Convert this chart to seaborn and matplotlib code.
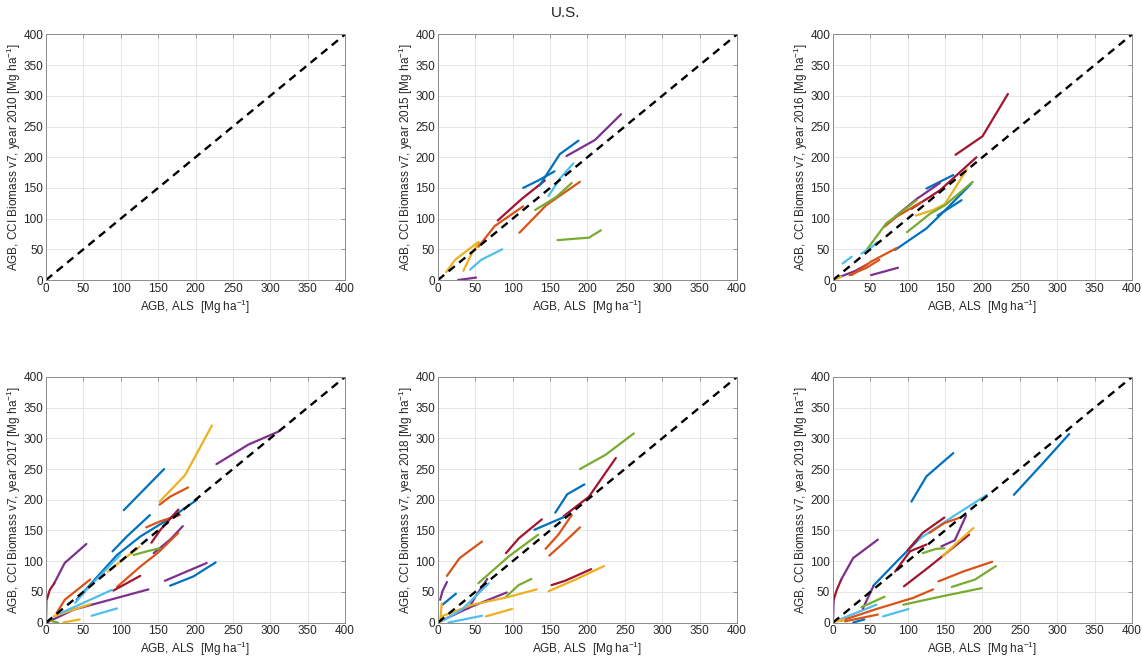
import matplotlib
matplotlib.use("Agg")
import matplotlib.pyplot as plt
import seaborn as sns
import pandas as pd

# MATLAB default line colours
PALETTE = {
    "blue": "#0072BD", "orange": "#D95319", "yellow": "#EDB120",
    "purple": "#7E2F8E", "green": "#77AC30", "lblue": "#4DBEEE",
    "dred": "#A2142F",
}

years = [2010, 2015, 2016, 2017, 2018, 2019]
ticks = [0, 50, 100, 150, 200, 250, 300, 350, 400]

# each segment: (colour, AGB ALS values, AGB CCI values)
seg_2010 = []

seg_2015 = [
    ("purple", [27, 51], [0, 4]),
    ("yellow", [11, 23, 54], [13, 33, 62]),
    ("yellow", [34, 45, 55], [15, 43, 61]),
    ("lblue", [43, 58, 86], [17, 33, 50]),
    ("orange", [54, 76, 114], [54, 88, 120]),
    ("dred", [80, 112, 143], [97, 132, 162]),
    ("blue", [114, 134, 156], [150, 162, 177]),
    ("blue", [136, 163, 188], [154, 205, 227]),
    ("purple", [172, 210, 245], [202, 228, 270]),
    ("lblue", [148, 163, 181], [137, 165, 190]),
    ("green", [130, 158, 179], [114, 135, 158]),
    ("orange", [109, 145, 190], [77, 122, 160]),
    ("green", [160, 202, 218], [65, 69, 81]),
]

seg_2016 = [
    ("dred", [164, 200, 234], [204, 234, 303]),
    ("dred", [105, 143, 192], [116, 146, 200]),
    ("blue", [125, 161], [149, 171]),
    ("purple", [83, 112, 143], [103, 132, 158]),
    ("orange", [69, 85, 118], [87, 103, 127]),
    ("yellow", [111, 134, 150, 179], [105, 114, 124, 180]),
    ("green", [45, 71, 112], [49, 92, 130]),
    ("green", [99, 130, 150, 187], [78, 108, 122, 160]),
    ("blue", [83, 125, 152, 185], [49, 84, 116, 157]),
    ("blue", [140, 172], [105, 130]),
    ("lblue", [38, 52, 60], [43, 54, 62]),
    ("lblue", [13, 25], [27, 38]),
    ("orange", [25, 51, 85], [8, 30, 52]),
    ("orange", [22, 45, 62], [8, 20, 33]),
    ("purple", [9, 30, 45], [5, 15, 25]),
    ("purple", [51, 87], [8, 20]),
    ("yellow", [0, 11], [0, 5]),
]

seg_2017 = [
    ("purple", [228, 271, 311], [258, 290, 311]),
    ("yellow", [152, 186, 222], [197, 240, 321]),
    ("blue", [104, 158], [183, 250]),
    ("orange", [152, 166, 190], [192, 205, 220]),
    ("blue", [41, 63, 95, 126, 170, 202], [37, 67, 110, 140, 173, 200]),
    ("blue", [89, 108, 139], [116, 140, 175]),
    ("orange", [134, 153, 179], [155, 165, 175]),
    ("dred", [141, 153, 177], [130, 151, 184]),
    ("purple", [144, 166, 183], [113, 135, 157]),
    ("orange", [95, 126, 150, 177], [58, 91, 114, 146]),
    ("green", [117, 135, 152], [110, 116, 121]),
    ("yellow", [83, 99, 125], [83, 99, 123]),
    ("lblue", [39, 54, 99], [32, 53, 110]),
    ("lblue", [19, 88], [15, 53]),
    ("lblue", [61, 95], [11, 23]),
    ("dred", [90, 126], [52, 76]),
    ("purple", [1, 37, 137], [0, 21, 54]),
    ("purple", [159, 215], [68, 97]),
    ("blue", [166, 197, 227], [60, 75, 98]),
    ("dred", [1, 5, 11], [37, 53, 64]),
    ("purple", [11, 25, 54], [64, 97, 128]),
    ("green", [0, 1], [0, 34]),
    ("green", [5, 16], [3, 0]),
    ("orange", [14, 25, 59], [15, 37, 70]),
    ("yellow", [23, 45], [0, 5]),
    ("yellow", [10, 59], [10, 30]),
]

seg_2018 = [
    ("green", [190, 224, 262], [250, 273, 308]),
    ("dred", [168, 202, 238], [173, 205, 268]),
    ("blue", [157, 173, 196], [179, 209, 225]),
    ("blue", [129, 148, 171], [151, 161, 173]),
    ("orange", [144, 161, 179], [120, 143, 175]),
    ("orange", [149, 170, 190], [109, 132, 155]),
    ("dred", [91, 108, 139], [113, 137, 168]),
    ("green", [54, 95, 134], [64, 108, 143]),
    ("orange", [12, 29, 59], [76, 105, 132]),
    ("purple", [3, 6, 12], [37, 51, 66]),
    ("blue", [6, 24], [29, 47]),
    ("purple", [41, 50, 66], [23, 42, 71]),
    ("purple", [3, 43, 92], [2, 25, 49]),
    ("green", [91, 108, 125], [42, 61, 71]),
    ("yellow", [5, 46, 92, 132], [10, 29, 41, 54]),
    ("yellow", [64, 99], [10, 22]),
    ("lblue", [5, 32, 68], [2, 21, 64]),
    ("lblue", [14, 59], [0, 11]),
    ("dred", [152, 170, 205], [61, 68, 87]),
    ("yellow", [148, 184, 222], [51, 70, 92]),
    ("yellow", [3, 5], [0, 31]),
]

seg_2019 = [
    ("blue", [242, 279, 316], [208, 257, 307]),
    ("blue", [105, 125, 161], [197, 238, 276]),
    ("lblue", [114, 161, 206], [135, 173, 208]),
    ("blue", [54, 85, 116], [60, 99, 137]),
    ("dred", [100, 120, 149], [118, 146, 171]),
    ("orange", [129, 149, 170], [146, 162, 171]),
    ("purple", [145, 163, 178], [124, 134, 174]),
    ("green", [120, 138, 149], [113, 120, 121]),
    ("yellow", [147, 165, 188], [108, 129, 154]),
    ("dred", [95, 129, 182], [59, 91, 143]),
    ("dred", [83, 103, 125], [83, 116, 127]),
    ("orange", [141, 174, 213], [67, 83, 99]),
    ("green", [159, 190, 218], [58, 70, 92]),
    ("green", [94, 143, 199], [29, 42, 56]),
    ("orange", [11, 58, 107, 134], [3, 22, 40, 54]),
    ("purple", [11, 27, 60], [70, 105, 135]),
    ("dred", [1, 5, 11], [37, 53, 70]),
    ("purple", [0, 1], [2, 37]),
    ("lblue", [67, 101], [10, 22]),
    ("orange", [16, 60], [2, 13]),
    ("green", [38, 69], [25, 42]),
    ("lblue", [9, 58], [5, 29]),
    ("purple", [40, 54], [23, 59]),
    ("blue", [27, 42], [0, 5]),
    ("yellow", [2, 15], [1, 5]),
]

segments = [seg_2010, seg_2015, seg_2016, seg_2017, seg_2018, seg_2019]

sns.set_style("white")
plt.rcParams["font.family"] = ["Liberation Sans", "DejaVu Sans"]
plt.rcParams["mathtext.fontset"] = "custom"
plt.rcParams["mathtext.rm"] = "Liberation Sans"

fig = plt.figure(figsize=(11.42, 6.62), dpi=100)

lefts = [0.0403, 0.3835, 0.7294]
bottoms = [0.577, 0.0596]
w, h = 0.2618, 0.371

for i, year in enumerate(years):
    ax = fig.add_axes([lefts[i % 3], bottoms[i // 3], w, h])
    rows = []
    for k, (col, xs, ys) in enumerate(segments[i]):
        for x, y in zip(xs, ys):
            rows.append({"seg": k, "x": x, "y": y, "color": col})
    if rows:
        df = pd.DataFrame(rows)
        sns.lineplot(data=df, x="x", y="y", hue="color", units="seg",
                     estimator=None, sort=False, palette=PALETTE,
                     legend=False, linewidth=1.6, ax=ax)
    sns.lineplot(x=[0, 400], y=[0, 400], color="black", linewidth=1.7,
                 linestyle=(0, (3.4, 2.4)), ax=ax)

    ax.set_xlim(0, 400)
    ax.set_ylim(0, 400)
    ax.set_xticks(ticks)
    ax.set_yticks(ticks)
    ax.grid(True, color="#E6E6E6", linewidth=0.7)
    ax.set_axisbelow(True)
    ax.tick_params(direction="in", length=3, width=0.6, colors="#8C8C8C",
                   labelcolor="#262626", labelsize=8.5, pad=2,
                   top=True, right=True)
    for s in ax.spines.values():
        s.set_color("#8C8C8C")
        s.set_linewidth(0.7)
    ax.set_xlabel(r"AGB, ALS  [Mg ha$^{\mathregular{-1}}$]", fontsize=8.5,
                  color="#262626", labelpad=2)
    ax.set_ylabel(r"AGB, CCI Biomass v7, year %d [Mg ha$^{\mathregular{-1}}$]" % year,
                  fontsize=8.5, color="#262626", labelpad=0.5)

fig.suptitle("U.S.", x=0.495, y=0.98, va="center", fontsize=11, color="#262626")

fig.savefig("out.png", dpi=100)
